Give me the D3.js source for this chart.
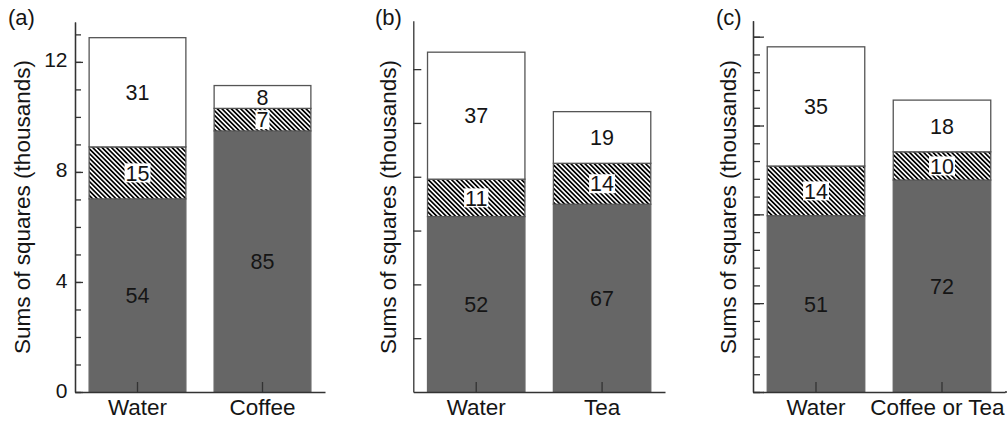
<!DOCTYPE html>
<html>
<head>
<meta charset="utf-8">
<script src="https://cdn.jsdelivr.net/npm/d3@7/dist/d3.min.js"></script>
<style>
  html, body { margin: 0; padding: 0; background: #fff; }
  svg { display: block; font-family: "Liberation Sans", Arial, Helvetica, sans-serif; }
</style>
</head>
<body>
<svg id="chart" width="1007" height="423"></svg>
<script>
// ---------------- DATA ----------------
const panelLetters = ["(a)", "(b)", "(c)"];
const yTitle = "Sums of squares (thousands)";

const categoriesA = ["Water", "Coffee"];
const categoriesB = ["Water", "Tea"];
const categoriesC = ["Water", "Coffee or Tea"];

// segment heights in each panel's own axis units (bottom grey, middle hatched, top white)
const greyA  = [7.02, 9.49];
const hatchA = [1.89, 0.82];
const whiteA = [3.97, 0.83];

const greyB  = [6.52, 6.98];
const hatchB = [1.39, 1.52];
const whiteB = [4.72, 1.92];

const greyC  = [9.92, 11.93];
const hatchC = [2.80, 1.59];
const whiteC = [6.71, 2.91];

// percentage labels
const greyPctA = [54, 85], hatchPctA = [15, 7], whitePctA = [31, 8];
const greyPctB = [52, 67], hatchPctB = [11, 14], whitePctB = [37, 19];
const greyPctC = [51, 72], hatchPctC = [14, 10], whitePctC = [35, 18];

// axis ticks
const yMaxA = 13.45, yMaxB = 13.8, yMaxC = 20.9;
const yMinorA = d3.range(0, 14, 1);
const yMajorA = [0, 4, 8, 12];
const yTickLabelsA = ["0", "4", "8", "12"];
const yMajorB = [2, 4, 6, 8, 10, 12];
const yMinorC = d3.range(0, 21, 1);
const yMajorC = [0, 5, 10, 15, 20];

// ---------------- LAYOUT ----------------
const W = 1007;
const svg = d3.select("#chart");
const base = 392;
const keys = ["grey", "hatch", "white"];

const defs = svg.append("defs");
const pat = defs.append("pattern")
  .attr("id", "hatch")
  .attr("patternUnits", "userSpaceOnUse")
  .attr("width", 3.3).attr("height", 10)
  .attr("patternTransform", "rotate(-45)");
pat.append("rect").attr("width", 3.3).attr("height", 10).attr("fill", "#fff");
pat.append("rect").attr("width", 1.7).attr("height", 10).attr("fill", "#000");

const fills = { grey: "#666666", hatch: "url(#hatch)", white: "#ffffff" };

const panels = [
  { letter: panelLetters[0], cats: categoriesA, grey: greyA, hatch: hatchA, white: whiteA,
    pct: { grey: greyPctA, hatch: hatchPctA, white: whitePctA },
    yMax: yMaxA, axisX: 75, xEnd: 325, top: 22, titleX: 29.5, letterX: 8,
    minor: yMinorA, major: yMajorA, labels: yTickLabelsA, minorLen: 6, majorLen: 8 },
  { letter: panelLetters[1], cats: categoriesB, grey: greyB, hatch: hatchB, white: whiteB,
    pct: { grey: greyPctB, hatch: hatchPctB, white: whitePctB },
    yMax: yMaxB, axisX: 413.3, xEnd: 665, top: 20.7, titleX: 396, letterX: 375,
    minor: [], major: yMajorB, labels: null, minorLen: 8, majorLen: 8 },
  { letter: panelLetters[2], cats: categoriesC, grey: greyC, hatch: hatchC, white: whiteC,
    pct: { grey: greyPctC, hatch: hatchPctC, white: whitePctC },
    yMax: yMaxC, axisX: 753, xEnd: 1005, top: 20.7, titleX: 736, letterX: 716,
    minor: yMinorC, major: yMajorC, labels: null, minorLen: 7, majorLen: 11 }
];

const textColor = "#151515";
const axisColor = "#333";

panels.forEach(p => {
  const g = svg.append("g");
  const table = p.cats.map((c, i) => ({ cat: c, grey: p.grey[i], hatch: p.hatch[i], white: p.white[i], idx: i }));
  const series = d3.stack().keys(keys)(table);

  const x = d3.scaleBand().domain(p.cats).range([p.axisX, p.xEnd])
    .paddingInner(0.226).paddingOuter(0.113);
  const y = d3.scaleLinear().domain([0, p.yMax]).range([base, p.top]);

  // bars
  series.forEach(s => {
    g.append("g").selectAll("rect").data(s).join("rect")
      .attr("x", d => x(d.data.cat))
      .attr("width", x.bandwidth())
      .attr("y", d => y(d[1]))
      .attr("height", d => y(d[0]) - y(d[1]))
      .attr("fill", fills[s.key])
      .attr("stroke", s.key === "grey" ? "#666" : "#555")
      .attr("stroke-width", 1.3);
  });

  // segment labels
  series.forEach(s => {
    s.forEach(d => {
      const cx = x(d.data.cat) + x.bandwidth() / 2;
      const cy = y((d[0] + d[1]) / 2);
      const t = g.append("text")
        .attr("x", cx).attr("y", cy).attr("dy", "0.36em")
        .attr("text-anchor", "middle")
        .attr("font-size", 21.5)
        .attr("fill", textColor)
        .text(p.pct[s.key][d.data.idx]);
      if (s.key === "hatch") {
        const bb = t.node().getBBox();
        g.insert("rect", () => t.node())
          .attr("x", bb.x - 1).attr("width", bb.width + 2)
          .attr("y", cy - 9.5).attr("height", 19)
          .attr("fill", "#fff");
      }
    });
  });

  // y axis ticks (inward)
  if (p.minor.length) {
    g.append("g").attr("transform", `translate(${p.axisX},0)`)
      .call(d3.axisRight(y).tickValues(p.minor).tickSize(p.minorLen).tickSizeOuter(0).tickFormat(""))
      .call(a => a.selectAll("line,path").attr("stroke", axisColor).attr("stroke-width", 1.3));
  }
  g.append("g").attr("transform", `translate(${p.axisX},0)`)
    .call(d3.axisRight(y).tickValues(p.major).tickSize(p.majorLen).tickSizeOuter(0).tickFormat(""))
    .call(a => a.selectAll("line,path").attr("stroke", axisColor).attr("stroke-width", 1.3));

  // y tick labels
  if (p.labels) {
    g.append("g").attr("transform", `translate(${p.axisX},0)`)
      .call(d3.axisLeft(y).tickValues(p.major).tickSize(0).tickPadding(7.5)
        .tickFormat((d, i) => p.labels[i]))
      .call(a => a.select(".domain").remove())
      .call(a => a.selectAll("text").attr("font-size", 21).attr("fill", textColor)
        .attr("font-family", null).attr("dy", "0.24em"));
  }

  // x axis: domain line + inward category ticks
  g.append("g").attr("transform", `translate(0,${base})`)
    .call(d3.axisTop(x).tickSize(10).tickSizeOuter(0).tickFormat(""))
    .call(a => a.selectAll("line,path").attr("stroke", axisColor).attr("stroke-width", 1.3));
  if (p.letter === "(c)") {
    g.append("line").attr("x1", p.xEnd).attr("x2", W).attr("y1", base).attr("y2", base)
      .attr("stroke", axisColor).attr("stroke-width", 1.3);
  }
  // category labels
  g.append("g").attr("transform", `translate(0,${base})`)
    .call(d3.axisBottom(x).tickSize(0).tickPadding(7))
    .call(a => a.select(".domain").remove())
    .call(a => a.selectAll("text").attr("font-size", 22.5).attr("fill", textColor)
      .attr("font-family", null))
    .call(a => a.selectAll(".tick").each(function () {
      const tick = d3.select(this);
      const txt = tick.select("text");
      const bb = this.getBoundingClientRect();
      const overflow = bb.right - (W - 2);
      if (overflow > 0) txt.attr("x", -overflow);
    }));

  // y title
  g.append("text")
    .attr("transform", `translate(${p.titleX},207) rotate(-90)`)
    .attr("text-anchor", "middle")
    .attr("font-size", 22.5)
    .attr("fill", textColor)
    .text(yTitle);

  // panel letter
  g.append("text")
    .attr("x", p.letterX).attr("y", 25)
    .attr("font-size", 22)
    .attr("fill", textColor)
    .text(p.letter);
});
</script>
</body>
</html>
